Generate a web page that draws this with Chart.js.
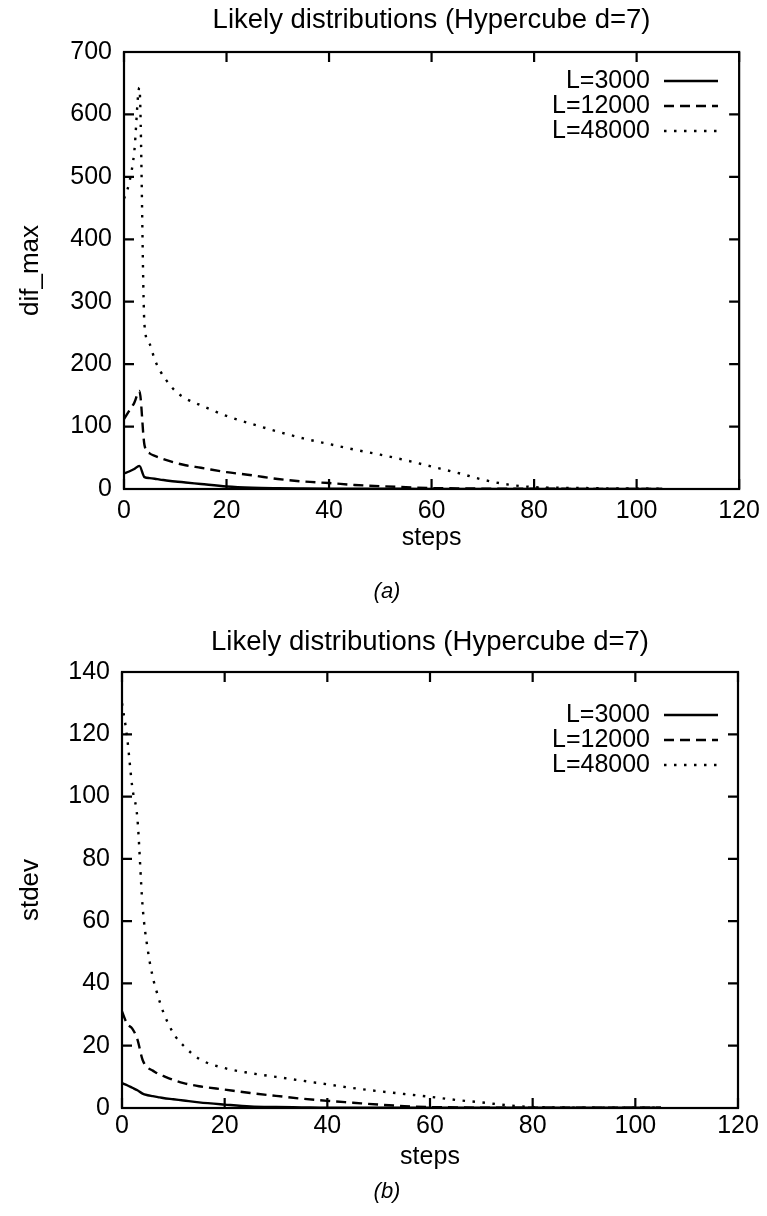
<!DOCTYPE html>
<html>
<head>
<meta charset="utf-8">
<title>Likely distributions (Hypercube d=7)</title>
<script src="https://cdn.jsdelivr.net/npm/chart.js@4.4.1/dist/chart.umd.min.js"></script>
<style>
  html, body { margin: 0; padding: 0; background: #ffffff; }
  .panel { position: absolute; left: 0; width: 767px; }
  canvas { display: block; }
</style>
</head>
<body>
<div class="panel" style="top:0px;height:608px"><canvas id="chartA" width="767" height="608"></canvas></div>
<div class="panel" style="top:620px;height:596px"><canvas id="chartB" width="767" height="596"></canvas></div>
<script>
// Shared x positions (steps) and series names
const steps = [0, 1, 2, 3, 4, 5, 6, 7, 8, 10, 12, 15, 20, 25, 30, 35, 40, 45, 50, 55, 60, 65, 70, 75, 80, 85, 90, 95, 100, 105];
const seriesLabels = ['L=3000', 'L=12000', 'L=48000'];
const chartTitle = 'Likely distributions (Hypercube d=7)';
const xTitle = 'steps';
const xTickValues = [0, 20, 40, 60, 80, 100, 120];

// (a) dif_max
const difMaxL3000  = [25, 28, 32, 37, 19, 17.5, 16.5, 15, 14, 12, 10.5, 8, 4, 2, 1.2, 0.8, 0.5, 0.4, 0.3, 0.3, 0.2, 0.2, 0.2, 0.1, 0.1, 0.1, 0.1, 0.1, 0.1, 0.1];
const difMaxL12000 = [112, 125, 138, 157, 70, 57, 53, 50, 47, 42, 38, 34, 27, 22, 16, 12, 9.5, 6.5, 4.5, 3, 1.5, 1, 0.6, 0.4, 0.3, 0.3, 0.2, 0.2, 0.2, 0.2];
const difMaxL48000 = [465, 490, 540, 643, 262, 232, 207, 190, 177, 157, 145, 134, 117, 104, 92, 81, 72, 63, 55, 46, 36, 26, 15, 7, 3, 2, 1.5, 1, 0.8, 0.5];
const difMaxTicks  = [0, 100, 200, 300, 400, 500, 600, 700];

// (b) stdev
const stdevL3000  = [8, 7.3, 6.5, 5.7, 4.6, 4.1, 3.8, 3.5, 3.2, 2.8, 2.4, 1.8, 1.1, 0.5, 0.3, 0.2, 0.1, 0.1, 0.1, 0.1, 0.1, 0.1, 0.1, 0.1, 0.1, 0.1, 0.1, 0.1, 0.1, 0.1];
const stdevL12000 = [31, 27, 25.5, 22, 15.5, 13, 12, 11, 10.3, 9, 8, 7, 5.9, 4.8, 3.9, 3, 2.3, 1.7, 1.1, 0.6, 0.3, 0.2, 0.1, 0.1, 0.1, 0.1, 0.1, 0.1, 0.1, 0.1];
const stdevL48000 = [130, 119, 103, 93, 65, 51, 42, 36, 31, 24, 20, 15.8, 12.8, 11.2, 10, 8.8, 7.6, 6.4, 5.4, 4.5, 3.6, 2.6, 1.8, 0.9, 0.3, 0.2, 0.1, 0.1, 0.1, 0.1];
const stdevTicks  = [0, 20, 40, 60, 80, 100, 120, 140];

const FONT = '"Liberation Sans", Arial, Helvetica, sans-serif';
const dashStyles = [[], [10, 6], [2.5, 7.5]];

function toPoints(values) {
  return values.map((v, i) => ({ x: steps[i], y: v }));
}

// Box frame, inward ticks on all four sides, title, in-plot legend and caption
const gnuplotFrame = {
  id: 'gnuplotFrame',
  afterDraw(chart, args, opts) {
    const { ctx, chartArea: a } = chart;
    const xs = chart.scales.x, ys = chart.scales.y;
    const tl = 10;
    ctx.save();
    ctx.strokeStyle = '#000';
    ctx.lineWidth = 2.2;
    ctx.setLineDash([]);
    ctx.strokeRect(a.left, a.top, a.right - a.left, a.bottom - a.top);
    ctx.beginPath();
    xs.ticks.forEach(t => {
      const px = xs.getPixelForValue(t.value);
      ctx.moveTo(px, a.bottom); ctx.lineTo(px, a.bottom - tl);
      ctx.moveTo(px, a.top); ctx.lineTo(px, a.top + tl);
    });
    ys.ticks.forEach(t => {
      const py = ys.getPixelForValue(t.value);
      ctx.moveTo(a.left, py); ctx.lineTo(a.left + tl, py);
      ctx.moveTo(a.right, py); ctx.lineTo(a.right - tl, py);
    });
    ctx.stroke();

    // title
    ctx.fillStyle = '#000';
    ctx.font = '27.5px ' + FONT;
    ctx.textAlign = 'center';
    ctx.textBaseline = 'alphabetic';
    ctx.fillText(opts.title, (a.left + a.right) / 2, opts.titleY);

    // legend
    ctx.font = '25px ' + FONT;
    ctx.textAlign = 'right';
    ctx.textBaseline = 'middle';
    chart.data.datasets.forEach((ds, i) => {
      const y = opts.legendY + i * opts.legendGap;
      ctx.fillText(ds.label, opts.legendTextRight, y);
      ctx.beginPath();
      ctx.lineWidth = ds.borderWidth;
      ctx.setLineDash(ds.borderDash || []);
      ctx.moveTo(opts.legendLineX0, y);
      ctx.lineTo(opts.legendLineX1, y);
      ctx.stroke();
    });
    ctx.setLineDash([]);

    // caption
    ctx.font = 'italic 22px ' + FONT;
    ctx.textAlign = 'center';
    ctx.fillText(opts.caption, opts.captionX, opts.captionY);
    ctx.restore();
  }
};

function makeChart(id, p) {
  const canvas = document.getElementById(id);
  const H = canvas.height;
  const xAxisH = 70;
  return new Chart(canvas, {
    type: 'line',
    data: {
      datasets: p.series.map((vals, i) => ({
        label: seriesLabels[i],
        data: toPoints(vals),
        borderColor: '#000',
        borderWidth: 2.4,
        borderDash: dashStyles[i],
        pointRadius: 0,
        fill: false,
        cubicInterpolationMode: 'monotone'
      }))
    },
    options: {
      responsive: false,
      animation: false,
      devicePixelRatio: 1,
      layout: { padding: { top: p.areaTop, right: 767 - p.areaRight, bottom: H - p.areaBottom - xAxisH, left: 0 } },
      plugins: {
        legend: { display: false },
        title: { display: false },
        tooltip: { enabled: false },
        gnuplotFrame: {
          title: chartTitle,
          titleY: p.titleY,
          legendY: p.legendY,
          legendGap: 25,
          legendTextRight: 650,
          legendLineX0: 664,
          legendLineX1: 718,
          caption: p.caption,
          captionX: 387,
          captionY: p.captionY
        }
      },
      scales: {
        x: {
          type: 'linear',
          min: 0, max: 120,
          afterFit(scale) { scale.height = xAxisH; },
          afterBuildTicks(scale) { scale.ticks = xTickValues.map(v => ({ value: v })); },
          grid: { display: false, drawTicks: false },
          border: { display: false },
          ticks: { color: '#000', font: { family: FONT, size: 25 }, padding: p.xTickPad, maxRotation: 0 },
          title: { display: true, text: xTitle, color: '#000', font: { family: FONT, size: 25 }, padding: { top: 0, bottom: 6 } }
        },
        y: {
          type: 'linear',
          min: 0, max: p.yTicks[p.yTicks.length - 1],
          afterFit(scale) { scale.width = p.areaLeft; },
          afterBuildTicks(scale) { scale.ticks = p.yTicks.map(v => ({ value: v })); },
          grid: { display: false, drawTicks: false },
          border: { display: false },
          ticks: { color: '#000', font: { family: FONT, size: 25 }, padding: 12 },
          title: { display: true, text: p.yTitle, color: '#000', font: { family: FONT, size: 26 }, padding: { top: 15, bottom: 0 } }
        }
      }
    },
    plugins: [gnuplotFrame]
  });
}

makeChart('chartA', {
  series: [difMaxL3000, difMaxL12000, difMaxL48000],
  yTicks: difMaxTicks,
  yTitle: 'dif_max',
  areaLeft: 124, areaRight: 740, areaTop: 52, areaBottom: 489,
  xTickPad: 7,
  titleY: 28,
  legendY: 81,
  caption: '(a)', captionY: 592
});

makeChart('chartB', {
  series: [stdevL3000, stdevL12000, stdevL48000],
  yTicks: stdevTicks,
  yTitle: 'stdev',
  areaLeft: 122, areaRight: 738, areaTop: 52, areaBottom: 488,
  xTickPad: 3,
  titleY: 30,
  legendY: 95,
  caption: '(b)', captionY: 572
});
</script>
</body>
</html>
